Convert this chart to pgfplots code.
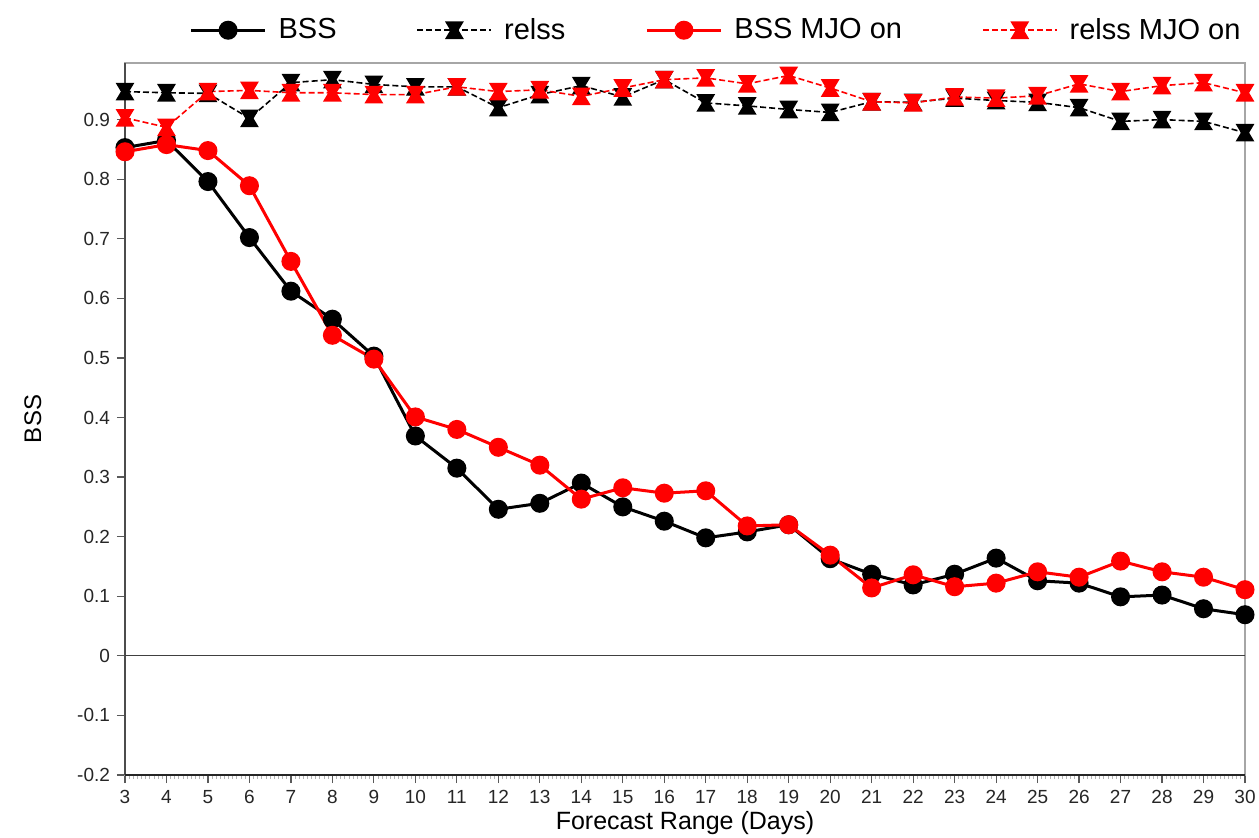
\documentclass[border=0pt]{standalone}
\usepackage{pgfplots}
\pgfplotsset{compat=1.18}
\usepackage{fontspec}
\setmainfont{Liberation Sans}
\pgfdeclareplotmark{hourglass}{%
  \pgfpathmoveto{\pgfqpoint{-\pgfplotmarksize}{\pgfplotmarksize}}%
  \pgfpathlineto{\pgfqpoint{\pgfplotmarksize}{\pgfplotmarksize}}%
  \pgfpathlineto{\pgfqpoint{0.4\pgfplotmarksize}{0pt}}%
  \pgfpathlineto{\pgfqpoint{\pgfplotmarksize}{-\pgfplotmarksize}}%
  \pgfpathlineto{\pgfqpoint{-\pgfplotmarksize}{-\pgfplotmarksize}}%
  \pgfpathlineto{\pgfqpoint{-0.4\pgfplotmarksize}{0pt}}%
  \pgfpathclose
  \pgfusepathqfillstroke}
\pgfplotstableread{
x bss relss bssm relssm
3 0.853 0.947 0.846 0.903
4 0.865 0.945 0.858 0.887
5 0.796 0.944 0.848 0.947
6 0.702 0.902 0.789 0.949
7 0.612 0.962 0.662 0.945
8 0.565 0.967 0.538 0.945
9 0.503 0.959 0.498 0.942
10 0.369 0.955 0.401 0.942
11 0.315 0.955 0.380 0.955
12 0.246 0.920 0.350 0.947
13 0.256 0.942 0.320 0.950
14 0.290 0.957 0.263 0.939
15 0.250 0.938 0.282 0.953
16 0.226 0.967 0.273 0.967
17 0.198 0.928 0.277 0.970
18 0.208 0.923 0.218 0.960
19 0.220 0.917 0.220 0.974
20 0.163 0.912 0.169 0.953
21 0.137 0.930 0.114 0.930
22 0.119 0.929 0.136 0.928
23 0.137 0.936 0.116 0.938
24 0.164 0.932 0.122 0.936
25 0.126 0.929 0.141 0.940
26 0.122 0.920 0.132 0.960
27 0.099 0.897 0.159 0.947
28 0.102 0.900 0.141 0.957
29 0.079 0.897 0.132 0.962
30 0.069 0.878 0.111 0.945
}\datatable
\begin{document}
\begin{tikzpicture}
\begin{axis}[
  scale only axis,
  width=560pt, height=356pt,
  xmin=3, xmax=30, ymin=-0.2, ymax=0.995,
  xtick={3,...,30},
  ytick={-0.2,-0.1,0,0.1,0.2,0.3,0.4,0.5,0.6,0.7,0.8,0.9},
  yticklabels={-0.2,-0.1,0,0.1,0.2,0.3,0.4,0.5,0.6,0.7,0.8,0.9},
  minor x tick num=9,
  tick align=outside,
  xtick pos=bottom, ytick pos=left,
  major tick length=4pt, minor tick length=2pt,
  tick style={gray!70!black, line width=0.6pt},
  minor tick style={gray!60, line width=0.5pt},
  ticklabel style={font=\fontsize{9.5}{10}\selectfont, text=black!85},
  /pgf/number format/assume math mode=true,
  xlabel={Forecast Range (Days)},
  ylabel={BSS},
  xlabel style={font=\fontsize{12.5}{14}\selectfont, yshift=3pt},
  ylabel style={font=\fontsize{12}{14}\selectfont, yshift=11pt},
  axis line style={gray!70, line width=0.6pt},
  legend columns=4,
  legend style={draw=none, fill=none, at={(0.5286,1.046)}, anchor=center,
    font=\fontsize{14.5}{16}\selectfont,
    /tikz/every odd column/.append style={column sep=4pt},
    /tikz/every even column/.append style={column sep=38pt}},
  legend image code/.code={\draw[mark repeat=2,mark phase=2] plot coordinates {(0cm,0cm) (0.65cm,0cm) (1.3cm,0cm)};},
  clip=false,
]
\draw[gray!60!black, line width=1pt] (rel axis cs:0,0) -- (rel axis cs:0,1);
\draw[black!85, line width=0.8pt] (rel axis cs:0,0) -- (rel axis cs:1,0);
\draw[black!75, line width=0.6pt] (axis cs:3,0) -- (axis cs:30,0);
\addplot[black, line width=1.5pt, mark=*, mark size=4pt, mark options={solid}] table[x=x,y=bss]{\datatable};
\addlegendentry{BSS}
\addplot[black, line width=0.8pt, dash pattern=on 3pt off 1.5pt, mark=hourglass, mark size=4pt, mark options={solid}] table[x=x,y=relss]{\datatable};
\addlegendentry{relss}
\addplot[red, line width=1.5pt, mark=*, mark size=4pt, mark options={solid}] table[x=x,y=bssm]{\datatable};
\addlegendentry{BSS MJO on}
\addplot[red, line width=0.8pt, dash pattern=on 3pt off 1.5pt, mark=hourglass, mark size=4pt, mark options={solid}] table[x=x,y=relssm]{\datatable};
\addlegendentry{relss MJO on}
\coordinate (sw) at (rel axis cs:0,0);
\coordinate (ne) at (rel axis cs:1,1);
\end{axis}
\pgfresetboundingbox
\path ([xshift=-62.5pt,yshift=-31pt]sw) rectangle ([xshift=7pt,yshift=31.5pt]ne);
\end{tikzpicture}
\end{document}
